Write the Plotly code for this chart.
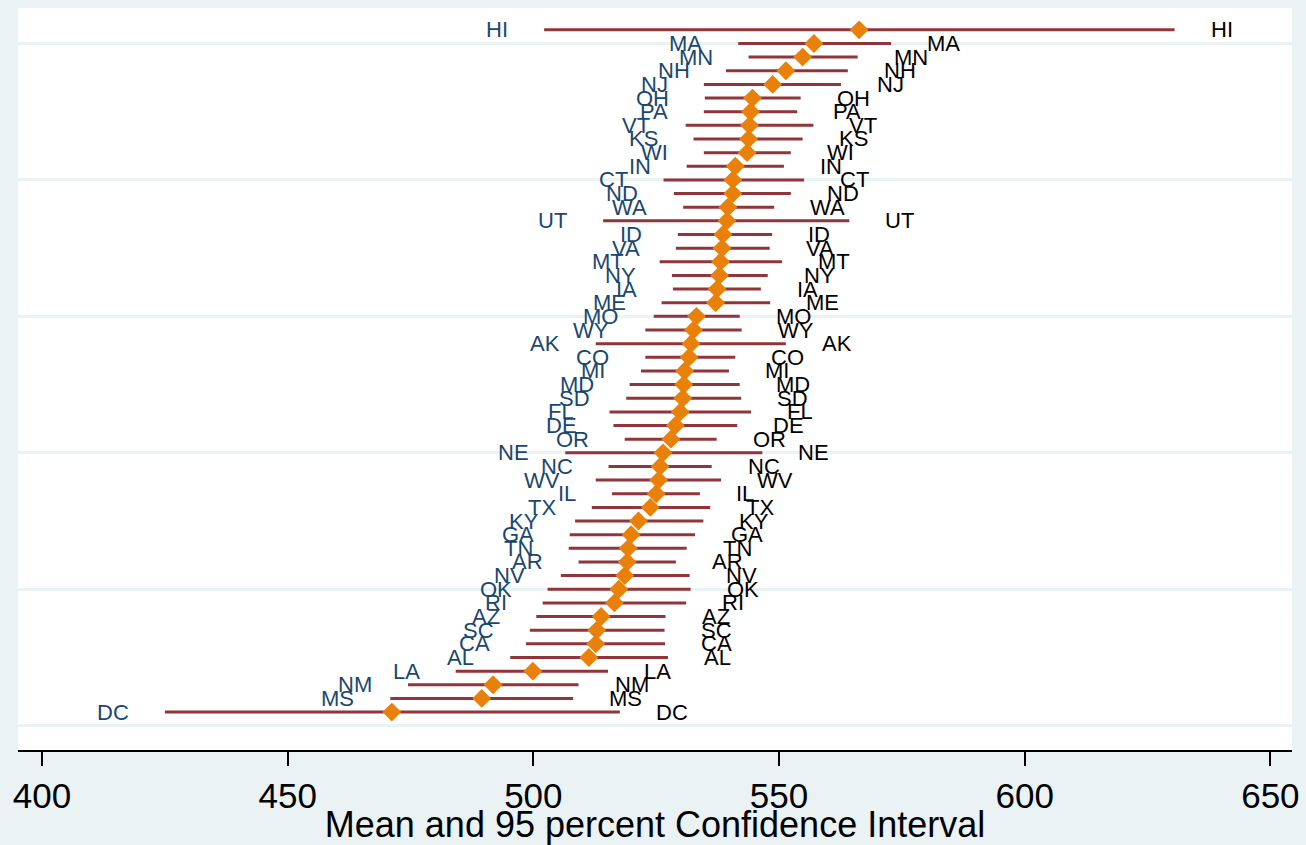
import plotly.graph_objects as go

# States ordered by rank (bottom = 1 to top = 51)
states = ["DC", "MS", "NM", "LA", "AL", "CA", "SC", "AZ", "RI", "OK",
          "NV", "AR", "TN", "GA", "KY", "TX", "IL", "WV", "NC", "NE",
          "OR", "DE", "FL", "SD", "MD", "MI", "CO", "AK", "WY", "MO",
          "ME", "IA", "NY", "MT", "VA", "ID", "UT", "WA", "ND", "CT",
          "IN", "WI", "KS", "VT", "PA", "OH", "NJ", "NH", "MN", "MA", "HI"]

lower = [425.0, 470.9, 474.5, 484.2, 495.3, 498.5, 499.3, 500.6, 501.9, 502.9,
         505.6, 509.2, 507.2, 507.4, 508.5, 511.9, 516.0, 512.7, 515.3, 506.5,
         518.6, 516.3, 515.5, 518.9, 519.6, 521.9, 522.8, 512.7, 522.8, 524.5,
         526.1, 528.4, 528.2, 525.7, 529.0, 529.4, 514.2, 530.5, 528.6, 526.5,
         531.2, 534.7, 532.6, 531.0, 534.7, 534.9, 534.7, 539.2, 543.8, 541.7, 502.2]

means = [471.2, 489.5, 491.8, 499.9, 511.3, 512.7, 512.9, 513.8, 516.5, 517.4,
         518.6, 519.1, 519.3, 519.9, 521.4, 523.8, 525.0, 525.5, 525.8, 526.4,
         528.0, 528.9, 529.9, 530.4, 530.6, 530.8, 531.7, 532.1, 532.6, 533.2,
         537.1, 537.4, 537.9, 538.1, 538.4, 538.6, 539.4, 539.6, 540.6, 540.6,
         541.1, 543.5, 543.8, 544.0, 544.2, 544.6, 548.7, 551.4, 554.8, 557.1, 566.3]

upper = [517.6, 508.1, 509.2, 515.2, 527.4, 526.8, 526.7, 526.9, 531.1, 532.0,
         531.8, 529.0, 531.2, 532.9, 534.6, 536.0, 533.9, 538.2, 536.3, 546.6,
         537.3, 541.5, 544.3, 542.3, 542.0, 539.8, 541.1, 551.4, 542.4, 542.0,
         548.2, 546.3, 547.7, 550.6, 548.1, 548.6, 564.3, 549.0, 552.4, 555.1,
         551.0, 552.4, 554.8, 557.0, 553.7, 554.4, 562.6, 564.0, 566.0, 572.8, 630.5]

rank = list(range(1, len(states) + 1))
x_ticks = [400, 450, 500, 550, 600, 650]
grid_vals = [0, 10, 20, 30, 40, 50]

err_plus = [u - m for u, m in zip(upper, means)]
err_minus = [m - l for m, l in zip(means, lower)]

BG = "#EAF2F3"
BAR = "#90353B"
ORANGE = "#E8800A"
NAVY = "#1A476F"
FONT = "Liberation Sans, Arial, sans-serif"

fig = go.Figure()
fig.add_trace(go.Scatter(
    x=means, y=rank, mode="markers",
    marker=dict(symbol="diamond", size=14.5, color=ORANGE, line=dict(width=0)),
    error_x=dict(type="data", symmetric=False, array=err_plus, arrayminus=err_minus,
                 color=BAR, thickness=3, width=0),
    showlegend=False, hoverinfo="skip",
))

annotations = []
for s, y, lo, hi in zip(states, rank, lower, upper):
    annotations.append(dict(x=lo, y=y, xref="x", yref="y", text=s, showarrow=False,
                            xanchor="right", yanchor="middle", xshift=-34,
                            font=dict(family=FONT, size=22, color=NAVY)))
    annotations.append(dict(x=hi, y=y, xref="x", yref="y", text=s, showarrow=False,
                            xanchor="left", yanchor="middle", xshift=34,
                            font=dict(family=FONT, size=22, color="black")))

fig.update_layout(
    width=1306, height=845,
    margin=dict(l=18, r=14, t=8, b=95, autoexpand=False),
    paper_bgcolor=BG, plot_bgcolor="white",
    font=dict(family=FONT, color="black"),
    annotations=annotations,
    xaxis=dict(range=[395.12, 654.4], tickvals=x_ticks, ticktext=[str(v) for v in x_ticks],
               ticks="outside", ticklen=14, tickwidth=2, tickcolor="black",
               showline=True, linecolor="black", linewidth=2, showgrid=False,
               zeroline=False, tickfont=dict(size=35, family=FONT, color="black"),
               automargin=False,
               title=dict(text="Mean and 95 percent Confidence Interval",
                          font=dict(size=36, family=FONT, color="black"), standoff=6)),
    yaxis=dict(range=[-1.78, 52.6], tickvals=grid_vals, showticklabels=False,
               showgrid=True, gridcolor=BG, gridwidth=3, zeroline=False,
               showline=False, ticks="", automargin=False),
)

fig.write_html(
    "out.html",
    config={"displayModeBar": False},
    post_script="document.body.style.margin='0';document.body.style.background='#EAF2F3';",
)
